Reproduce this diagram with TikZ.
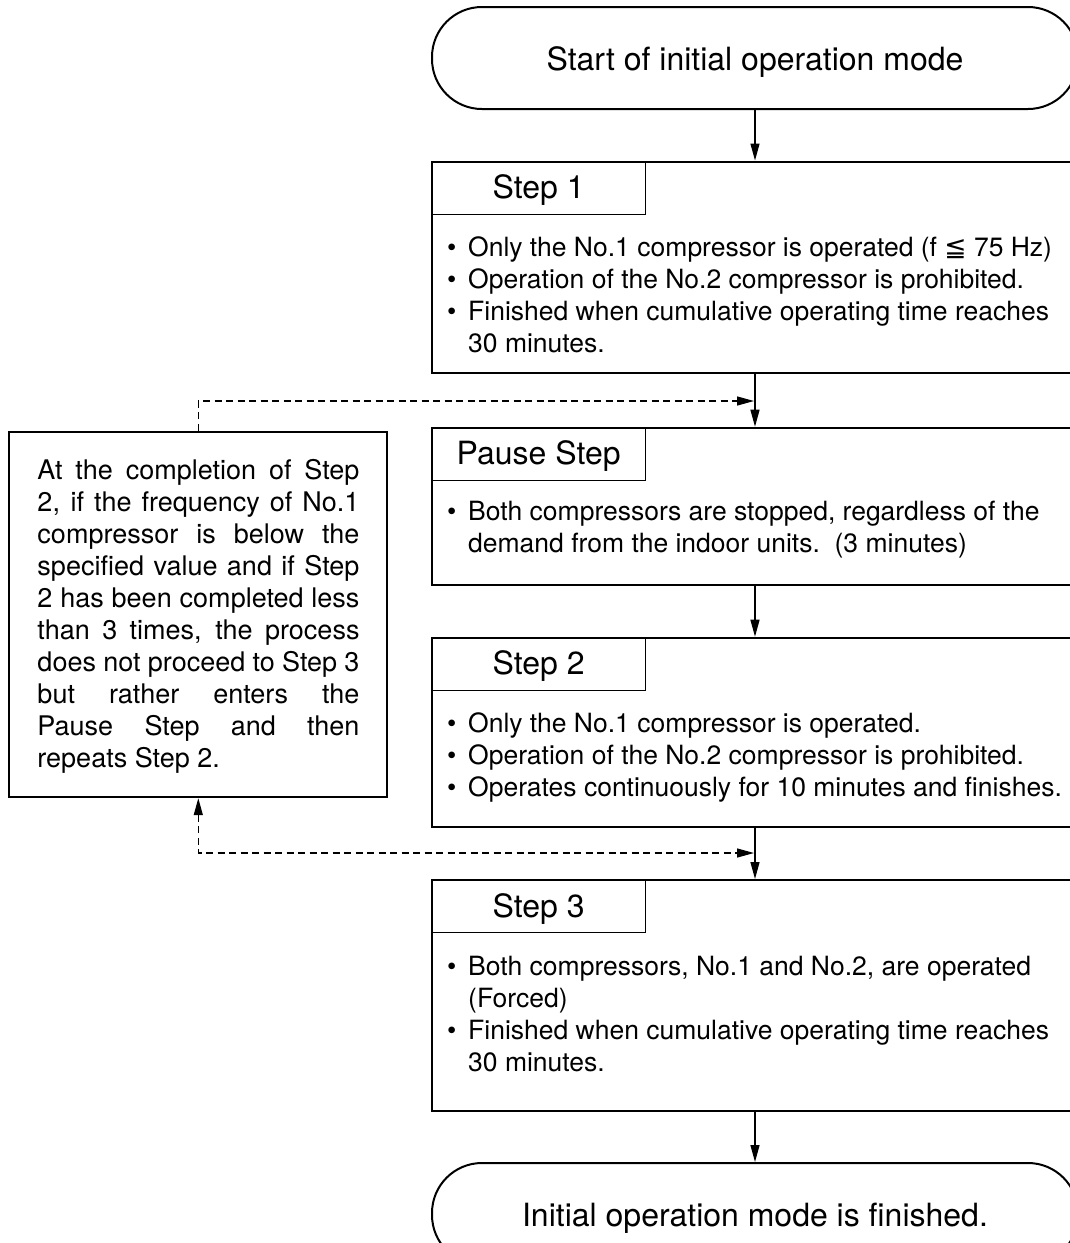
\documentclass[tikz,border=0pt]{standalone}
\usepackage{fontspec}
\setmainfont{TeX Gyre Heros}
\newfontfamily\dejavu{DejaVu Sans}
\usetikzlibrary{arrows.meta}
\newcommand\bitem[1]{\hbox{\strut\makebox[21pt][l]{•}#1}}
\newcommand\bcont[1]{\hbox{\strut\hspace*{21pt}#1}}
\newcommand\jline[1]{\hbox to 322pt{\strut#1}}
\newcommand\pline[1]{\hbox{\strut#1}}
\begin{document}
\begin{tikzpicture}[x=1pt,y=-1pt,
  term/.style={draw, line width=2pt, rounded corners=50pt, minimum width=646pt, minimum height=102pt, inner sep=0pt, text height=24pt, text depth=0pt, font=\fontsize{32}{38}\selectfont},
  stepbox/.style={draw, line width=2pt, minimum width=646pt, inner sep=0pt},
  tabbox/.style={draw, line width=1.3pt, minimum width=214pt, minimum height=53pt, inner sep=0pt, anchor=north west, text height=22pt, text depth=0pt, font=\fontsize{32}{38}\selectfont},
  bodytext/.style={anchor=north west, inner sep=0pt, font=\fontsize{26.5}{32}\selectfont},
  notetext/.style={anchor=north west, inner sep=0pt, font=\fontsize{27}{32}\selectfont},
  notebox/.style={draw, line width=2pt, minimum width=378pt, minimum height=365.5pt, inner sep=0pt},
  flow/.style={line width=1.3pt, -{Triangle[length=17pt,width=9pt]}},
  loopline/.style={flow, dash pattern=on 7pt off 4.5pt}
]
\useasboundingbox (0,0) rectangle (1069,1243);

% terminals
\node[term] (start) at (755,58) {Start of initial operation mode};
\node[term] (end) at (755,1214) {Initial operation mode is finished.};

% Step 1
\node[stepbox, minimum height=211.5pt] (s1) at (755,267.25) {};
\node[tabbox] (t1) at (s1.north west) {Step 1};
\node[bodytext] (b1) at (447,233.6) {\vbox{%
  \bitem{Only the No.1 compressor is operated (f {\dejavu ≦} 75 Hz)}%
  \bitem{Operation of the No.2 compressor is prohibited.}%
  \bitem{Finished when cumulative operating time reaches}%
  \bcont{30 minutes.}}};

% Pause step
\node[stepbox, minimum height=157.3pt] (ps) at (755,506.35) {};
\node[tabbox] (tp) at (ps.north west) {Pause Step};
\node[bodytext] (bp) at (447,497.6) {\vbox{%
  \bitem{Both compressors are stopped, regardless of the}%
  \bcont{demand from the indoor units.\ \ (3 minutes)}}};

% Step 2
\node[stepbox, minimum height=189.3pt] (s2) at (755,732.35) {};
\node[tabbox] (t2) at (s2.north west) {Step 2};
\node[bodytext] (b2) at (447,709.6) {\vbox{%
  \bitem{Only the No.1 compressor is operated.}%
  \bitem{Operation of the No.2 compressor is prohibited.}%
  \bitem{Operates continuously for 10 minutes and finishes.}}};

% Step 3
\node[stepbox, minimum height=231pt] (s3) at (755,995.5) {};
\node[tabbox] (t3) at (s3.north west) {Step 3};
\node[bodytext] (b3) at (447,952.6) {\vbox{%
  \bitem{Both compressors, No.1 and No.2, are operated}%
  \bcont{(Forced)}%
  \bitem{Finished when cumulative operating time reaches}%
  \bcont{30 minutes.}}};

% note box
\node[notebox] (note) at (198.3,614.45) {};
\node[notetext] (nt) at (37.3,456.6) {\vbox{%
  \jline{At the completion of Step}%
  \jline{2, if the frequency of No.1}%
  \jline{compressor is below the}%
  \jline{specified value and if Step}%
  \jline{2 has been completed less}%
  \jline{than 3 times, the process}%
  \jline{does not proceed to Step 3}%
  \jline{but rather enters the}%
  \jline{Pause Step and then}%
  \pline{repeats Step 2.}}};

% connectors
\coordinate (j1) at (755,401);
\coordinate (j2) at (755,853);
\draw[flow] (start) -- (s1);
\draw[flow] (s1) -- (ps);
\draw[flow] (ps) -- (s2);
\draw[flow] (s2) -- (s3);
\draw[flow] (s3) -- (end);
\draw[loopline, shorten >=1pt] (note.north) |- (j1);
\draw[loopline, {Triangle[length=17pt,width=9pt]}-{Triangle[length=17pt,width=9pt]}, shorten >=1pt] (note.south) |- (j2);
\end{tikzpicture}
\end{document}
